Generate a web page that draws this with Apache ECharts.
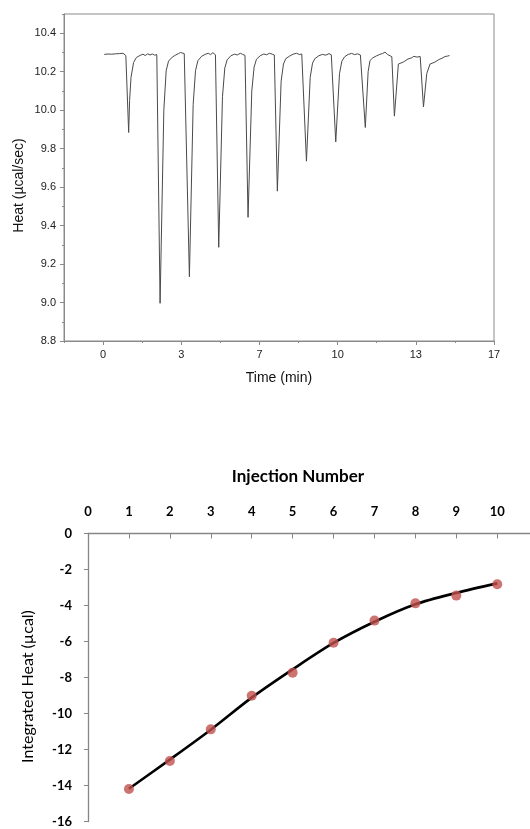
<!DOCTYPE html>
<html>
<head>
<meta charset="utf-8">
<title>ITC titration</title>
<script src="https://cdn.jsdelivr.net/npm/echarts@6/dist/echarts.min.js"></script>
<style>
  html, body { margin: 0; padding: 0; background: #ffffff; }
  #chart { width: 530px; height: 829px; }
</style>
</head>
<body>
<div id="chart"></div>
<script>
// Raw power trace: [time (min), heat rate (µcal/sec)]
const heatTrace = [
  [0.05, 10.290], [0.13, 10.286], [0.21, 10.292], [0.29, 10.287], [0.37, 10.291], [0.45, 10.285],
  [0.53, 10.293], [0.61, 10.288], [0.69, 10.294], [0.77, 10.289], [0.85, 10.296], [0.93, 10.290],
  [0.97, 10.284],
  [1.09, 9.884], [1.13, 10.050], [1.19, 10.170], [1.30, 10.248], [1.42, 10.274], [1.58, 10.285],
  [1.70, 10.291], [1.80, 10.284], [1.90, 10.293], [2.00, 10.287], [2.10, 10.292], [2.20, 10.286],
  [2.29, 10.289],
  [2.43, 8.996], [2.59, 10.000], [2.69, 10.205], [2.79, 10.255], [2.95, 10.276], [3.10, 10.287],
  [3.20, 10.293], [3.30, 10.300], [3.38, 10.308], [3.46, 10.294], [3.54, 10.284],
  [3.68, 9.134], [3.84, 10.030], [3.94, 10.205], [4.04, 10.257], [4.20, 10.280], [4.35, 10.290],
  [4.48, 10.296], [4.58, 10.289], [4.68, 10.299], [4.79, 10.288],
  [4.93, 9.287], [5.09, 10.070], [5.19, 10.220], [5.29, 10.262], [5.45, 10.283], [5.60, 10.291],
  [5.72, 10.287], [5.85, 10.296], [5.95, 10.290], [6.05, 10.285],
  [6.18, 9.443], [6.34, 10.100], [6.44, 10.225], [6.54, 10.265], [6.70, 10.283], [6.85, 10.292],
  [6.97, 10.288], [7.10, 10.296], [7.21, 10.291], [7.30, 10.287],
  [7.43, 9.579], [7.59, 10.150], [7.69, 10.240], [7.79, 10.268], [7.95, 10.281], [8.10, 10.291],
  [8.25, 10.296], [8.37, 10.289], [8.47, 10.292], [8.55, 10.285],
  [8.67, 9.735], [8.83, 10.170], [8.93, 10.245], [9.03, 10.268], [9.20, 10.283], [9.35, 10.290],
  [9.50, 10.286], [9.63, 10.294], [9.73, 10.288], [9.80, 10.284],
  [9.92, 9.835], [10.08, 10.190], [10.18, 10.255], [10.30, 10.278], [10.45, 10.290], [10.60, 10.295],
  [10.72, 10.289], [10.85, 10.293], [10.97, 10.287], [11.05, 10.283],
  [11.18, 9.910], [11.30, 10.200], [11.38, 10.258], [11.50, 10.272], [11.65, 10.282], [11.80, 10.290],
  [11.92, 10.295], [12.02, 10.302], [12.12, 10.290], [12.31, 10.278],
  [12.42, 9.969], [12.59, 10.240], [12.80, 10.250], [13.00, 10.266], [13.15, 10.272], [13.25, 10.280],
  [13.38, 10.276], [13.52, 10.279],
  [13.66, 10.017], [13.80, 10.190], [13.94, 10.240], [14.15, 10.250], [14.30, 10.262], [14.45, 10.270],
  [14.58, 10.279], [14.68, 10.281], [14.77, 10.284]
];

// Time axis: labelled ticks every 200 s, shown in minutes
const timeTickValues = [0, 3.3333, 6.6667, 10, 13.3333, 16.6667];
const heatTickValues = [8.8, 9.0, 9.2, 9.4, 9.6, 9.8, 10.0, 10.2, 10.4];

// Integrated heat per injection
const injectionTicks = [0, 1, 2, 3, 4, 5, 6, 7, 8, 9, 10];
const injectionNumbers = [1, 2, 3, 4, 5, 6, 7, 8, 9, 10];
const integratedHeat = [-14.19, -12.64, -10.88, -9.01, -7.73, -6.07, -4.84, -3.88, -3.45, -2.82];
const fittedHeat = [-14.18, -12.56, -10.90, -9.12, -7.55, -6.08, -4.90, -3.93, -3.30, -2.77];

const traceFont = 'Liberation Sans, Arial, sans-serif';
const sumFont = 'Lato, Carlito, Calibri, sans-serif';
const frameGray = '#8a8a8a';

const chart = echarts.init(document.getElementById('chart'), null, { renderer: 'canvas' });

chart.setOption({
  animation: false,
  backgroundColor: '#ffffff',
  grid: [
    { left: 64, top: 14, width: 430, height: 327, show: true, borderColor: frameGray, borderWidth: 1, backgroundColor: 'transparent' },
    { left: 88, top: 533.5, width: 442, height: 288 }
  ],
  xAxis: [
    // thermogram time axis: short ticks every 100 s
    {
      gridIndex: 0, type: 'value', position: 'bottom',
      min: -1.6667, max: 16.6667, interval: 1.6667,
      axisLine: { show: true, onZero: false, lineStyle: { color: frameGray, width: 1 } },
      axisTick: { show: true, length: 2, lineStyle: { color: frameGray } },
      axisLabel: { show: false },
      splitLine: { show: false },
      name: 'Time (min)', nameLocation: 'middle', nameGap: 30,
      nameTextStyle: { fontFamily: traceFont, fontSize: 14, color: '#111' }
    },
    // labelled ticks of the time axis
    {
      gridIndex: 0, type: 'value', position: 'bottom',
      min: -1.6667, max: 16.6667, interval: 1.6667,
      axisLine: { show: false, onZero: false },
      axisTick: { show: true, length: 4, customValues: timeTickValues, lineStyle: { color: frameGray } },
      axisLabel: {
        show: true, customValues: timeTickValues, margin: 8,
        fontFamily: traceFont, fontSize: 11, color: '#222',
        formatter: v => String(Math.round(v))
      },
      splitLine: { show: false }
    },
    // injection number axis along the top
    {
      gridIndex: 1, type: 'value', position: 'top',
      min: 0, max: 10.8, interval: 1,
      axisLine: { show: true, onZero: false, lineStyle: { color: '#868686', width: 1.3 } },
      axisTick: { show: true, inside: true, length: 5, customValues: injectionTicks, lineStyle: { color: '#868686', width: 1 } },
      axisLabel: {
        show: true, customValues: injectionTicks, margin: 15,
        fontFamily: sumFont, fontWeight: 'bold', fontSize: 13, color: '#000'
      },
      splitLine: { show: false },
      name: 'Injection Number', nameLocation: 'middle', nameGap: 48,
      nameTextStyle: { fontFamily: sumFont, fontWeight: 'bold', fontSize: 17, color: '#000', padding: [0, 22, 0, 0] }
    }
  ],
  yAxis: [
    {
      gridIndex: 0, type: 'value', position: 'left',
      min: 8.8, max: 10.5, interval: 0.1,
      axisLine: { show: true, onZero: false, lineStyle: { color: frameGray, width: 1 } },
      axisTick: { show: true, length: 2, lineStyle: { color: frameGray } },
      axisLabel: { show: false },
      splitLine: { show: false },
      name: 'Heat (µcal/sec)', nameLocation: 'middle', nameGap: 38,
      nameTextStyle: { fontFamily: traceFont, fontSize: 14, color: '#111', padding: [0, 16, 0, 0] }
    },
    {
      gridIndex: 0, type: 'value', position: 'left',
      min: 8.8, max: 10.5, interval: 0.1,
      axisLine: { show: false, onZero: false },
      axisTick: { show: true, length: 4, customValues: heatTickValues, lineStyle: { color: frameGray } },
      axisLabel: {
        show: true, customValues: heatTickValues, margin: 8,
        fontFamily: traceFont, fontSize: 11, color: '#222',
        formatter: v => v.toFixed(1)
      },
      splitLine: { show: false }
    },
    {
      gridIndex: 1, type: 'value', position: 'left',
      min: -16, max: 0, interval: 2,
      axisLine: { show: true, onZero: false, lineStyle: { color: '#868686', width: 1.3 } },
      axisTick: { show: true, length: 4, lineStyle: { color: '#868686', width: 1 } },
      axisLabel: { show: true, margin: 16, fontFamily: sumFont, fontWeight: 'bold', fontSize: 13, color: '#000' },
      splitLine: { show: false },
      name: 'Integrated Heat (µcal)', nameLocation: 'middle', nameGap: 52,
      nameTextStyle: { fontFamily: sumFont, fontSize: 16, color: '#000', padding: [0, 18, 0, 0] }
    }
  ],
  series: [
    {
      name: 'Heat', type: 'line', xAxisIndex: 0, yAxisIndex: 0,
      data: heatTrace, showSymbol: false, symbol: 'none',
      lineStyle: { color: '#4a4a4a', width: 1 }
    },
    {
      name: 'Fit', type: 'line', xAxisIndex: 2, yAxisIndex: 2,
      data: injectionNumbers.map((n, i) => [n, fittedHeat[i]]),
      smooth: 0.3, symbol: 'none',
      lineStyle: { color: '#000000', width: 2.6 }, z: 2
    },
    {
      name: 'Integrated heat', type: 'scatter', xAxisIndex: 2, yAxisIndex: 2,
      data: injectionNumbers.map((n, i) => [n, integratedHeat[i]]),
      symbol: 'circle', symbolSize: 10,
      itemStyle: { color: '#c0504d' }, z: 3
    }
  ]
});
</script>
</body>
</html>
